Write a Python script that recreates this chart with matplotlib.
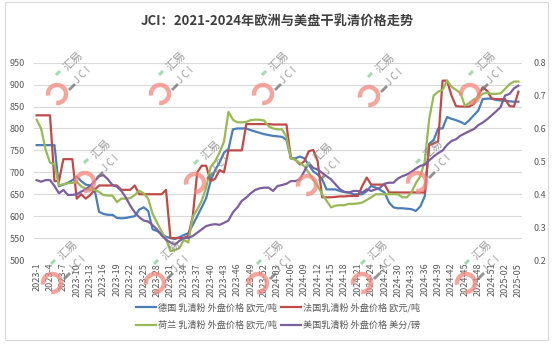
import matplotlib
matplotlib.use("Agg")
import matplotlib.pyplot as plt
from matplotlib.patches import Arc, Rectangle

plt.rcParams['font.family'] = ['Noto Sans CJK SC', 'DejaVu Sans']

# week labels, 2023-1 .. 2025-05
weeks = ([f"2023-{i}" for i in range(1, 53)] +
         [f"2024-{i:02d}" for i in range(1, 53)] +
         [f"2025-{i:02d}" for i in range(1, 6)])

# 欧元/吨
de = [762, 762, 762, 762, 762, 668, 672, 676, 682, 690,
      680, 672, 670, 660, 610, 605, 603, 603, 596, 595,
      596, 598, 600, 615, 620, 612, 570, 566, 560, 553,
      550, 548, 552, 557, 561, 580, 600, 620, 641, 680,
      705, 722, 745, 753, 798, 800, 800, 800, 796, 793,
      790, 787, 785, 783, 782, 781, 774, 732, 732, 736,
      732, 717, 702, 695, 684, 661, 661, 661, 657, 655,
      654, 650, 650, 650, 657, 669, 665, 660, 654, 631,
      620, 618, 618, 617, 616, 612, 622, 645, 765, 774,
      800, 800, 826, 822, 819, 815, 810, 819, 830, 841,
      867, 868, 868, 865, 864, 863, 862, 861, 861]
fr = [830, 830, 830, 830, 680, 680, 730, 730, 730, 640,
      650, 640, 648, 660, 670, 670, 670, 670, 670, 660,
      660, 660, 670, 650, 650, 650, 650, 650, 650, 660,
      550, 550, 550, 550, 555, 600, 700, 715, 715, 680,
      685, 705, 700, 750, 750, 750, 750, 810, 810, 810,
      810, 810, 810, 809, 809, 809, 809, 732, 729, 718,
      725, 748, 751, 725, 643, 643, 643, 644, 645, 645,
      646, 646, 646, 669, 688, 672, 672, 672, 672, 654,
      654, 654, 654, 654, 654, 654, 654, 654, 762, 766,
      770, 909, 909, 875, 851, 850, 850, 850, 856, 875,
      894, 886, 868, 867, 867, 867, 851, 850, 884]
nl = [820, 800, 752, 722, 718, 670, 673, 675, 676, 678,
      668, 663, 660, 660, 655, 648, 647, 647, 632, 640,
      640, 641, 648, 658, 652, 640, 605, 585, 565, 548,
      520, 523, 527, 546, 540, 599, 615, 635, 665, 712,
      725, 745, 770, 838, 820, 814, 814, 815, 819, 820,
      820, 818, 805, 800, 798, 798, 781, 732, 729, 721,
      714, 699, 684, 669, 650, 635, 620, 624, 625, 625,
      628, 628, 629, 631, 637, 643, 650, 650, 650, 650,
      650, 650, 643, 643, 654, 675, 691, 725, 822, 875,
      884, 888, 909, 895, 888, 881, 852, 858, 866, 871,
      879, 882, 879, 879, 880, 890, 901, 907, 907]
# 美分/磅 (right axis)
us = [0.443, 0.438, 0.443, 0.443, 0.425, 0.403, 0.413, 0.398, 0.398, 0.400,
      0.408, 0.415, 0.425, 0.440, 0.455, 0.458, 0.445, 0.428, 0.423, 0.410,
      0.390, 0.365, 0.345, 0.330, 0.320, 0.317, 0.306, 0.293, 0.275, 0.262,
      0.253, 0.247, 0.258, 0.267, 0.267, 0.273, 0.283, 0.293, 0.303, 0.307,
      0.309, 0.307, 0.313, 0.320, 0.345, 0.360, 0.380, 0.390, 0.403, 0.413,
      0.418, 0.420, 0.420, 0.410, 0.425, 0.428, 0.432, 0.440, 0.440, 0.445,
      0.470, 0.495, 0.480, 0.475, 0.465, 0.455, 0.445, 0.430, 0.415, 0.407,
      0.405, 0.410, 0.410, 0.405, 0.415, 0.410, 0.415, 0.420, 0.432, 0.435,
      0.435, 0.448, 0.455, 0.460, 0.468, 0.478, 0.486, 0.490, 0.503, 0.515,
      0.525, 0.533, 0.550, 0.562, 0.567, 0.578, 0.585, 0.592, 0.598, 0.610,
      0.618, 0.628, 0.640, 0.652, 0.665, 0.700, 0.705, 0.722, 0.730]

names = ["德国 乳清粉 外盘价格 欧元/吨", "法国乳清粉 外盘价格 欧元/吨",
         "荷兰 乳清粉 外盘价格 欧元/吨", "美国乳清粉 外盘价格 美分/磅"]
colors = ["#4a7ebb", "#be4b48", "#98b954", "#7d5fa0"]

W, H = 554, 346
fig = plt.figure(figsize=(W / 100, H / 100), dpi=100)
tc = "#595959"

ax = fig.add_axes([33.5 / W, 1 - 260 / H, (522 - 33.5) / W, (260 - 62.7) / H])
ax.patch.set_alpha(0)
x = list(range(len(weeks)))
l1, = ax.plot(x, de, color=colors[0], lw=1.6, label=names[0])
l2, = ax.plot(x, fr, color=colors[1], lw=1.6, label=names[1])
l3, = ax.plot(x, nl, color=colors[2], lw=1.6, label=names[2])
ax.set_ylim(500, 950)
ax.set_yticks(range(500, 951, 50))
ax.set_xlim(-0.7, 108.8)
ax.set_xticks(x[::3])
ax.set_xticklabels(weeks[::3], rotation=90)
ax.grid(axis='y', color='#d9d9d9', lw=0.8)
ax.set_axisbelow(True)
for s in ax.spines.values():
    s.set_visible(False)
ax.tick_params(length=0, labelsize=6.5, colors=tc)
ax.tick_params(axis='y', pad=6)
ax.tick_params(axis='x', pad=2)

ax2 = ax.twinx()
l4, = ax2.plot(x, us, color=colors[3], lw=1.6, label=names[3])
ax2.set_ylim(0.2, 0.8)
ax2.set_yticks([0.2, 0.3, 0.4, 0.5, 0.6, 0.7, 0.8])
ax2.set_yticklabels(["0.2", "0.3", "0.4", "0.5", "0.6", "0.7", "0.8"])
for s in ax2.spines.values():
    s.set_visible(False)
ax2.tick_params(length=0, labelsize=6.5, colors=tc, pad=8)

fig.text(277 / W, 1 - 21 / H, "JCI：2021-2024年欧洲与美盘干乳清价格走势",
         ha='center', va='center', fontsize=9.5, fontweight='bold', color='#404040')

fig.legend([l1, l3, l2, l4], [names[0], names[2], names[1], names[3]],
           ncol=2, loc='upper left', bbox_to_anchor=(136 / W, 1 - 303 / H),
           frameon=False, fontsize=6.6, handlelength=2.2, handletextpad=0.2,
           columnspacing=0.4, labelspacing=0.85, borderpad=0, borderaxespad=0,
           labelcolor=tc)

# watermark layer in pixel coordinates
wm = fig.add_axes([0, 0, 1, 1], zorder=5)
wm.set_xlim(0, W)
wm.set_ylim(H, 0)
wm.axis('off')
wm.patch.set_alpha(0)
wm.add_patch(Rectangle((5, 2), 543, 338, fill=False, ec='#d9d9d9', lw=0.8))

marks = [(57, 94), (160, 94), (263, 94), (369, 96), (470, 94),
         (85, 182), (195, 183), (307, 185), (417, 182),
         (52, 283), (155, 283), (258, 283), (362, 283), (466, 283)]
for cx, cy in marks:
    wm.add_patch(Arc((cx, cy), 18, 18, theta1=170, theta2=455,
                     color='#f4877c', lw=3.2, alpha=0.75))
    wm.plot([cx - 1, cx + 3], [cy - 19, cy - 23], color='#8fd19e', lw=2.2, alpha=0.8,
            solid_capstyle='butt')
    wm.text(cx + 16, cy - 33, "汇易", rotation=45, ha='center', va='center',
            fontsize=8, color='#8c8c8c', alpha=0.85)
    wm.text(cx + 25, cy - 19, "J C I", rotation=45, ha='center', va='center',
            fontsize=7, color='#8c8c8c', alpha=0.85)
    wm.plot([cx + 13, cx + 17], [cy - 5, cy - 9], color='#777777', lw=2, alpha=0.8)

fig.savefig("out.png", dpi=100)
